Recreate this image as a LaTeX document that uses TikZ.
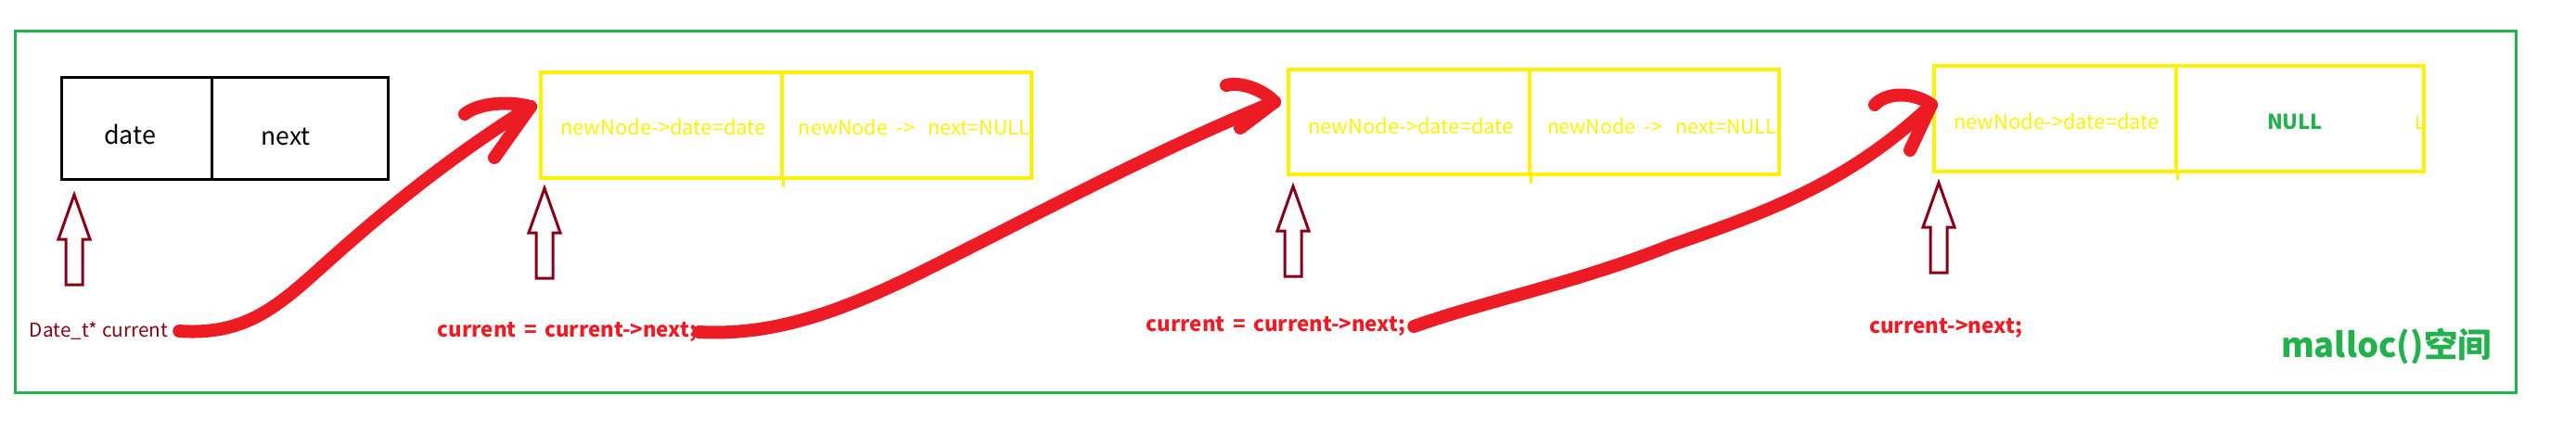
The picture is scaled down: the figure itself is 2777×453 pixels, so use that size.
\documentclass[tikz,border=0pt]{standalone}
\usepackage{fontspec}
\usepackage{graphicx}
\setmainfont{Noto Sans CJK SC}
\definecolor{pred}{RGB}{237,28,36}
\definecolor{pdark}{RGB}{136,0,21}
\definecolor{pyel}{RGB}{255,242,0}
\definecolor{pgreen}{RGB}{34,177,76}
\newcommand\fitw[2]{\resizebox{#1pt}{!}{#2}}
\newcommand\assign{current\hspace{0.38em}=\hspace{0.38em}current->next;}
\tikzset{
  uparr/.pic={\draw[pdark, line width=3pt, line join=miter]
    (0,0) -- (17,48) -- (9,48) -- (9,97) -- (-9,97) -- (-9,48) -- (-17,48) -- cycle;}
}
\begin{document}
\begin{tikzpicture}[x=1pt,y=-1pt,
  frame/.style={draw=pgreen, line width=3pt, inner sep=0pt},
  bcell/.style={draw=black, line width=3pt, inner sep=0pt},
  ycell/.style={draw=pyel, line width=3.5pt, inner sep=0pt},
  lbl/.style={inner sep=0pt, anchor=center},
  ytxt/.style={lbl, text=pyel},
  rtxt/.style={lbl, text=pred, font=\bfseries},
  conn/.style={draw=pred, line width=14pt, line cap=round, line join=round},
  tick/.style={draw=pyel, line width=3pt}
]
\fill[white] (0,0) rectangle (2777,453);
\useasboundingbox (0,0) rectangle (2777,453);

% frame
\node[frame, minimum width=2696pt, minimum height=390pt] (fr) at (1364,228) {};

% black box
\node[bcell, minimum width=162pt, minimum height=110pt] (b1a) at (147,138) {};
\node[bcell, minimum width=190pt, minimum height=110pt] (b1b) at (323,138) {};
\node[lbl] (dt) at (140,145) {\fitw{56}{date}};
\node[lbl] (nx) at (308,147) {\fitw{53}{next}};

% yellow box 2
\node[ycell, minimum width=260pt, minimum height=114pt] (b2a) at (713,135) {};
\node[ycell, minimum width=269pt, minimum height=114pt] (b2b) at (977.5,135) {};
\draw[tick] (b2a.south east) -- ++(0,7);
\node[ytxt] (d2) at (715,137) {\fitw{222}{newNode->date=date}};
\node[ytxt] (n2) at (985.5,137) {\fitw{249}{newNode\hspace{0.45em}->\hspace{0.7em}next=NULL}};

% yellow box 3
\node[ycell, minimum width=260pt, minimum height=113pt] (b3a) at (1519,131.5) {};
\node[ycell, minimum width=269pt, minimum height=113pt] (b3b) at (1783.5,131.5) {};
\draw[tick] (b3a.south east) -- ++(0,8);
\node[ytxt] (d3) at (1521,136) {\fitw{222}{newNode->date=date}};
\node[ytxt] (n3) at (1791.5,136) {\fitw{247}{newNode\hspace{0.45em}->\hspace{0.7em}next=NULL}};

% yellow box 4
\node[ycell, minimum width=261pt, minimum height=114pt] (b4a) at (2215.5,128) {};
\node[ycell, minimum width=267pt, minimum height=114pt] (b4b) at (2479.5,128) {};
\draw[tick] (b4a.south east) -- ++(0,7);
\node[ytxt] (d4) at (2217,131) {\fitw{222}{newNode->date=date}};
\node[lbl, text=pgreen, font=\bfseries] (nl) at (2474,131) {\fitw{60}{NULL}};
\draw[pyel, line width=1.5pt] (2606,125) -- (2606,138) -- (2611,138);

% hollow arrows
\pic (a1) at (80,210) {uparr};
\pic (a2) at (587,203) {uparr};
\pic (a3) at (1394,201) {uparr};
\pic (a4) at (2090,197) {uparr};

% labels
\node[lbl, text=pdark] (t1) at (106.5,357) {\fitw{149}{Date\_t* current}};
\node[rtxt] (t2) at (611.5,358) {\fitw{279}{\assign}};
\node[rtxt] (t3) at (1375.5,352) {\fitw{279}{\assign}};
\node[rtxt] (t4) at (2097.5,354) {\fitw{165}{current->next;}};
\node[lbl, text=pgreen, font=\bfseries] (ml) at (2572.5,373) {\fitw{227}{malloc()空间}};

% red hand-drawn connectors
\coordinate (h1) at (572,115);
\coordinate (h2) at (1374,110);
\coordinate (h3) at (2082,113);

\draw[conn] ([xshift=12pt]t1.east) .. controls (265,362) and (300,330) .. (350,285)
  .. controls (430,213) and (500,160) .. (h1);
\draw[conn] (h1) .. controls (545,108) and (515,112) .. (501,123);
\draw[conn] (h1) -- (533,170);

\draw[conn] ([xshift=2pt]t2.east) .. controls (830,362) and (900,340) .. (1000,290)
  .. controls (1110,235) and (1250,160) .. (h2);
\draw[conn] (h2) .. controls (1360,95) and (1335,88) .. (1322,92);
\draw[conn] (h2) -- (1337,138);

\draw[conn] ([xshift=9pt]t3.east) .. controls (1600,325) and (1700,305) .. (1800,265)
  .. controls (1900,230) and (1990,200) .. (h3);
\draw[conn] (h3) .. controls (2065,100) and (2035,98) .. (2021,113);
\draw[conn] (h3) -- (2059,162);
\end{tikzpicture}
\end{document}
